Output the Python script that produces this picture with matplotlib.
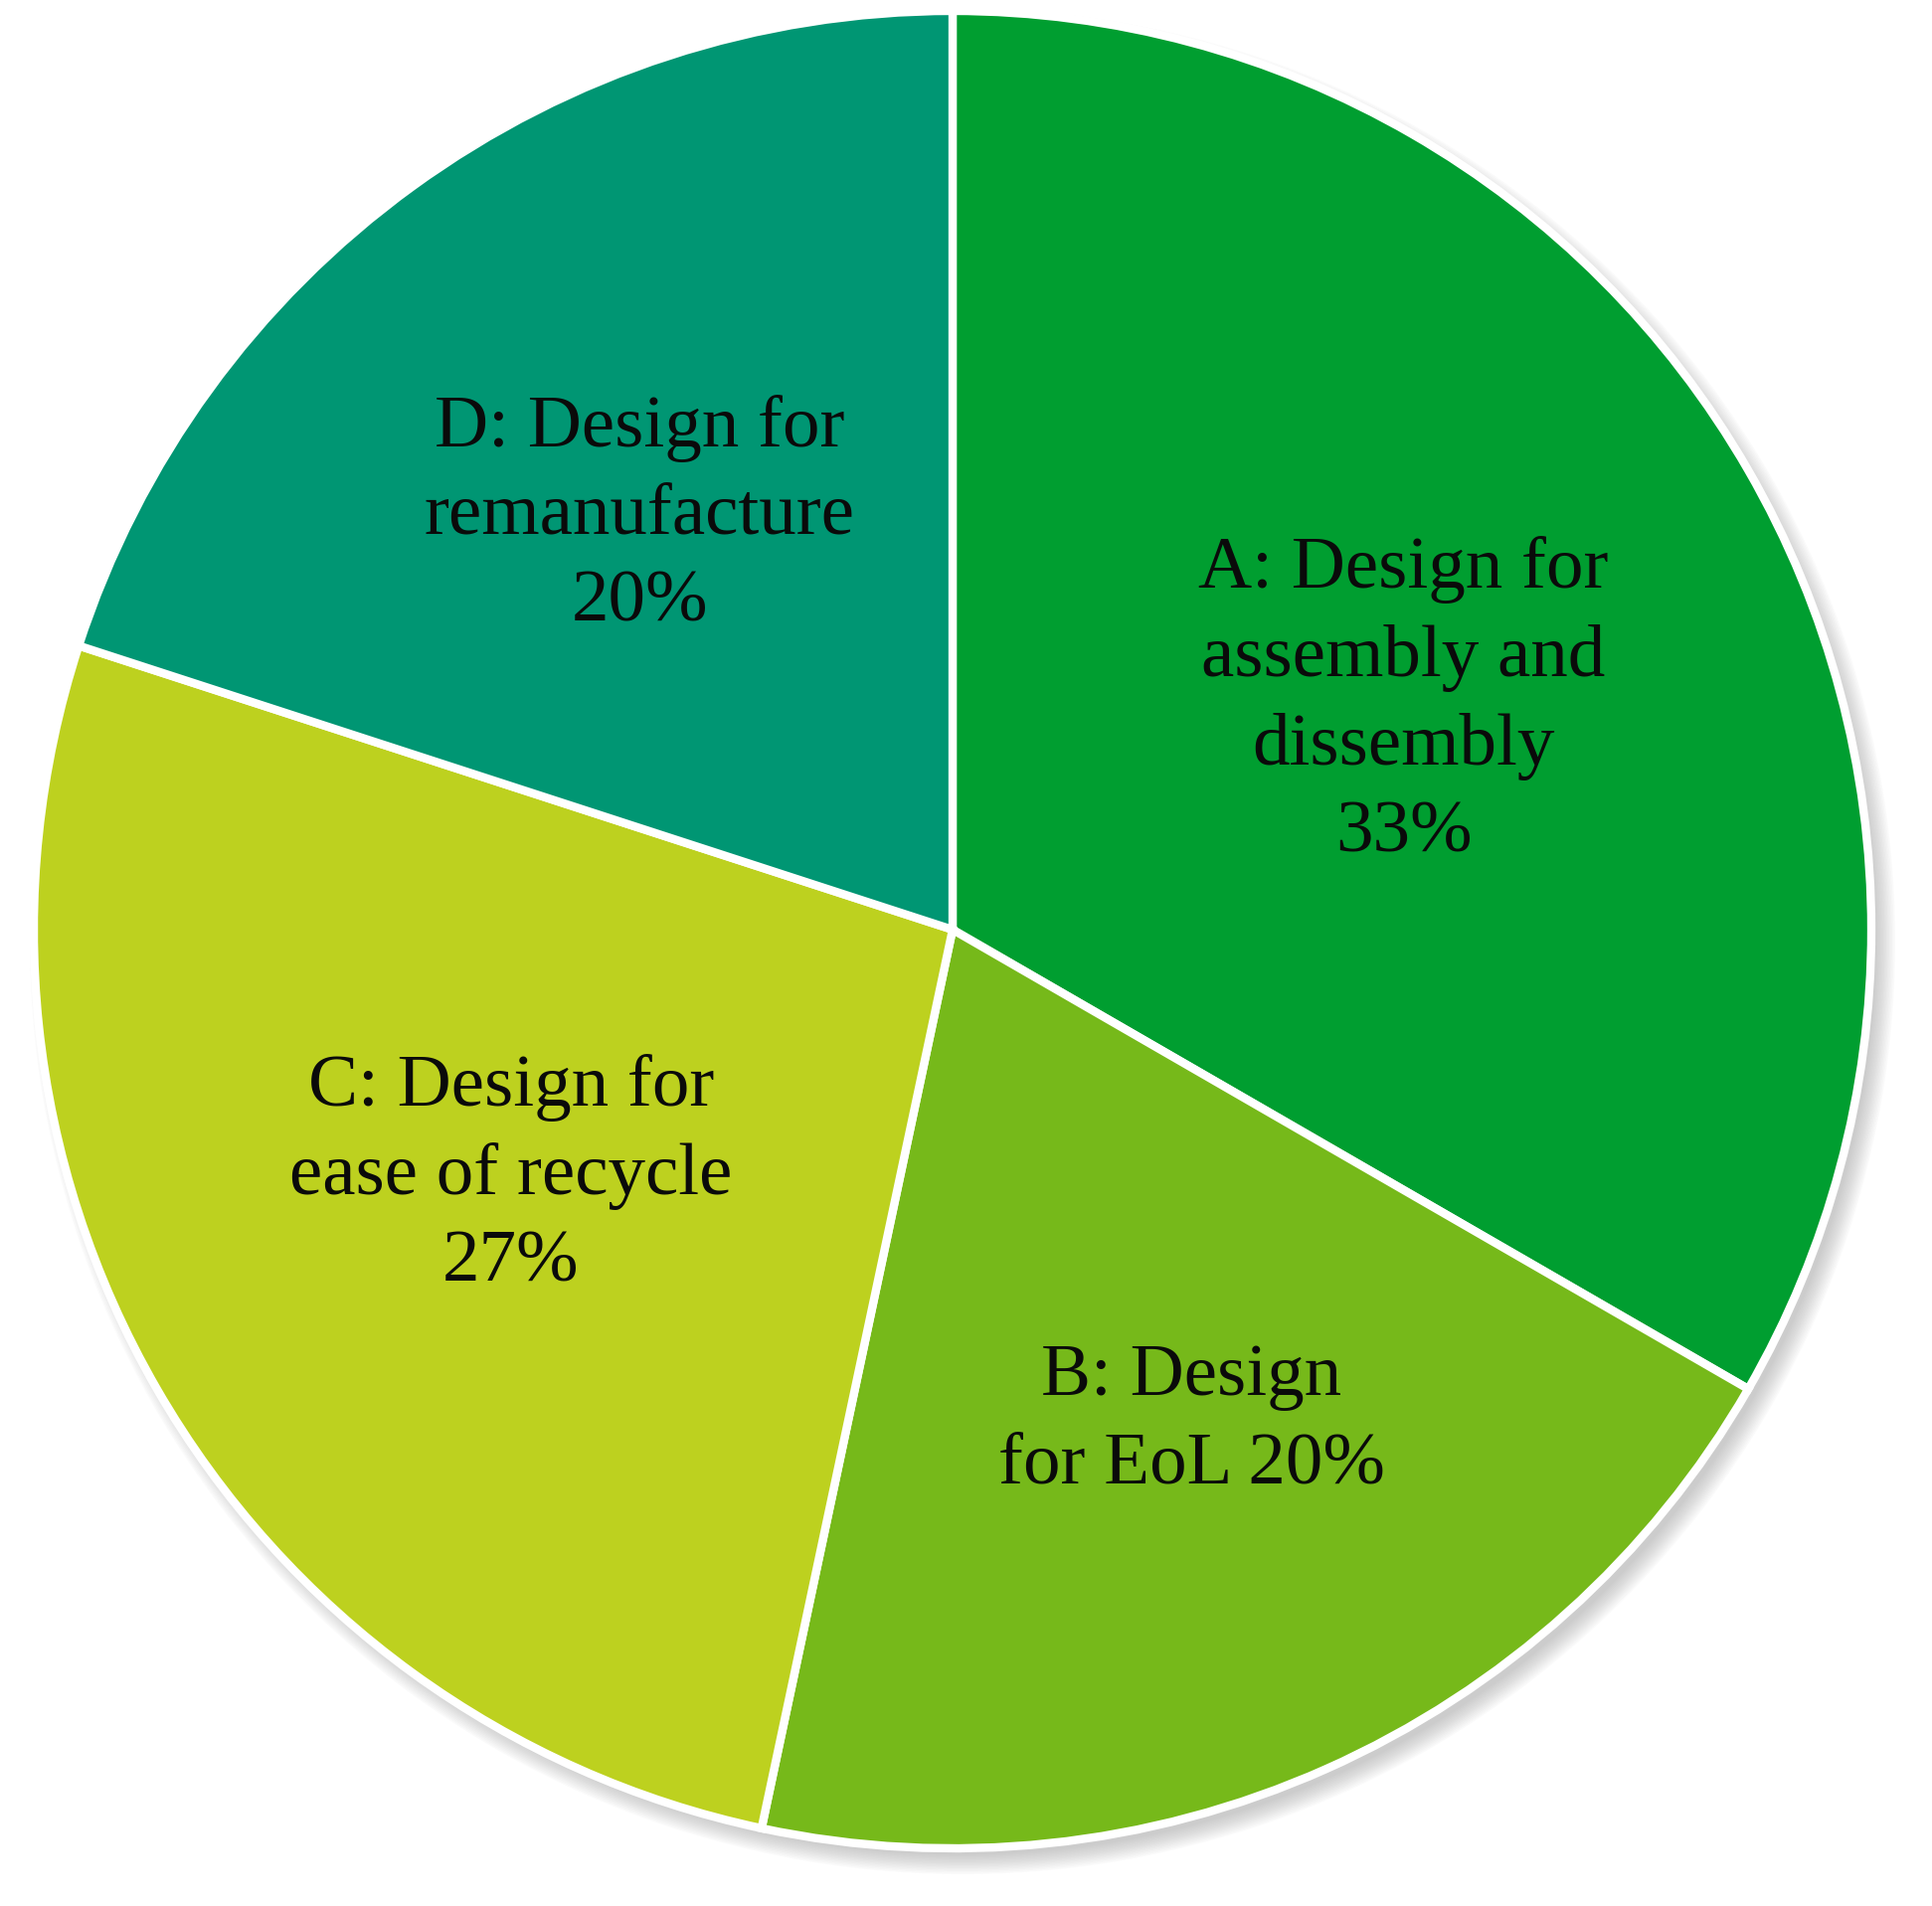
import numpy as np
import matplotlib.pyplot as plt
from matplotlib.patches import Circle

labels = ["A: Design for\nassembly and\ndissembly\n33%",
          "B: Design\nfor EoL 20%",
          "C: Design for\nease of recycle\n27%",
          "D: Design for\nremanufacture\n20%"]
counts = [5, 3, 4, 3]   # 33%, 20%, 27%, 20%
colors = ["#009e30", "#76b91a", "#bdd11f", "#009673"]
label_dist = [0.55, 0.595, 0.55, 0.565]
label_turn = [-3.2, 1.9, -0.9, 1.1]   # degrees off the wedge middle

W, H = 1943, 1917
fig = plt.figure(figsize=(W / 100, H / 100), dpi=100)
ax = fig.add_axes([0, 0, 1, 1])
ax.set_xlim(0, W)
ax.set_ylim(0, H)
ax.set_aspect("equal")
ax.axis("off")

cx, cy, R = 958, 1917 - 935, 924

# soft shadow to the lower right
for i in range(14):
    ax.add_patch(Circle((cx + 10, cy - 12), R + 14 - i * 1.5, color="#8a8a8a",
                        alpha=0.035, lw=0, zorder=0))

wedges, _ = ax.pie(counts, colors=colors, startangle=90, counterclock=False,
                   center=(cx, cy), radius=R,
                   wedgeprops=dict(edgecolor="white", linewidth=6))
for w in wedges:
    w.set_zorder(2)

for w, lab, d, t in zip(wedges, labels, label_dist, label_turn):
    mid = np.deg2rad((w.theta1 + w.theta2) / 2 + t)
    x = cx + d * R * np.cos(mid)
    y = cy + d * R * np.sin(mid)
    ax.text(x, y, lab, ha="center", va="center", multialignment="center",
            fontsize=54, family=["Liberation Serif", "DejaVu Serif"],
            color="#0a0a0a", linespacing=1.4, zorder=3)

ax.set_xlim(0, W)
ax.set_ylim(0, H)
fig.savefig("out.png", dpi=100)
